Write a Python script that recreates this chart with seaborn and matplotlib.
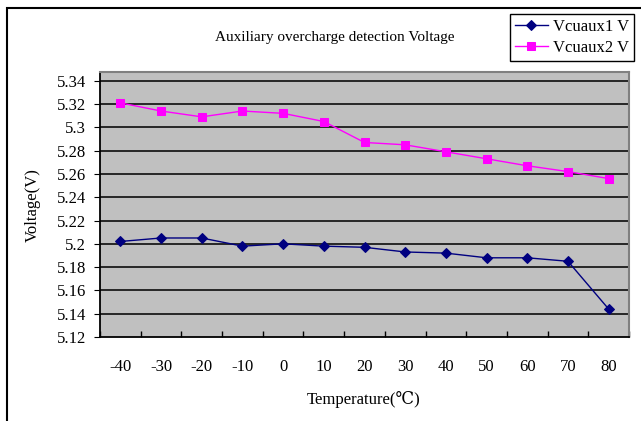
import matplotlib
matplotlib.use("Agg")
import matplotlib.pyplot as plt
import seaborn as sns
from matplotlib.patches import Rectangle

# data
temps = [-40, -30, -20, -10, 0, 10, 20, 30, 40, 50, 60, 70, 80]
vcuaux1 = [5.202, 5.205, 5.205, 5.198, 5.200, 5.198, 5.197, 5.193, 5.192, 5.188, 5.188, 5.185, 5.144]
vcuaux2 = [5.321, 5.314, 5.309, 5.314, 5.312, 5.305, 5.287, 5.285, 5.279, 5.273, 5.267, 5.262, 5.256]
y_ticks = [5.12, 5.14, 5.16, 5.18, 5.20, 5.22, 5.24, 5.26, 5.28, 5.30, 5.32, 5.34]

plt.rcParams['font.family'] = ['Liberation Serif', 'DejaVu Serif', 'DejaVu Sans']

fig = plt.figure(figsize=(6.41, 4.21), dpi=100)
W, H = 641, 421
ax = fig.add_axes([100 / W, 1 - 337 / H, 529 / W, 265 / H])
ax.set_facecolor('#c0c0c0')

# horizontal gridlines
for v in y_ticks[1:]:
    ax.axhline(v, color='#1a1a1a', lw=1.3, zorder=1)

sns.lineplot(x=temps, y=vcuaux1, ax=ax, color='#000080', marker='D', markersize=5,
             markeredgecolor='#000080', linewidth=1, label='Vcuaux1 V', zorder=3)
sns.lineplot(x=temps, y=vcuaux2, ax=ax, color='#ff00ff', marker='s', markersize=5.5,
             markeredgecolor='#ff00ff', linewidth=1, label='Vcuaux2 V', zorder=3)

ax.set_xlim(-45, 85)
ax.set_ylim(5.12, 5.3475)
ax.set_xticks(temps)
ax.set_xticklabels([str(t) for t in temps])
ax.set_xticks([t - 5 for t in temps] + [85], minor=True)
ax.tick_params(axis='x', which='major', length=0, pad=16, labelsize=12)
ax.tick_params(axis='x', which='minor', direction='in', length=4, width=1, color='black')
ax.set_yticks(y_ticks)
ax.set_yticklabels([f'{v:g}' for v in y_ticks])
ax.tick_params(axis='y', direction='out', length=4, pad=6, labelsize=12)
ax.set_xlabel('')
ax.set_ylabel('')

for s in ['left', 'bottom']:
    ax.spines[s].set_color('black')
    ax.spines[s].set_linewidth(1.3)
for s in ['top', 'right']:
    ax.spines[s].set_color('#808080')
    ax.spines[s].set_linewidth(1.5)

leg = ax.legend(loc='upper right', bbox_to_anchor=(634 / W, 1 - 14 / H),
                bbox_transform=fig.transFigure, borderaxespad=0, fancybox=False,
                framealpha=1, edgecolor='black', fontsize=12, handlelength=2,
                handletextpad=0.3, labelspacing=0.3, borderpad=0.3)
leg.get_frame().set_linewidth(1)

fig.text(335 / W, 1 - 37 / H, 'Auxiliary overcharge detection Voltage',
         ha='center', va='center', fontsize=11)
fig.text(364 / W, 1 - 400 / H, 'Temperature(℃)', ha='center', va='center', fontsize=12)
fig.text(33 / W, 1 - 205 / H, 'Voltage(V)', ha='center', va='center',
         rotation=90, fontsize=12)

# chart outer border
fig.add_artist(Rectangle((7 / W, -0.1), 1.2, 1.1 - 8 / H, fill=False,
                         edgecolor='black', lw=1.5, transform=fig.transFigure))

fig.savefig('out.png', dpi=100)
